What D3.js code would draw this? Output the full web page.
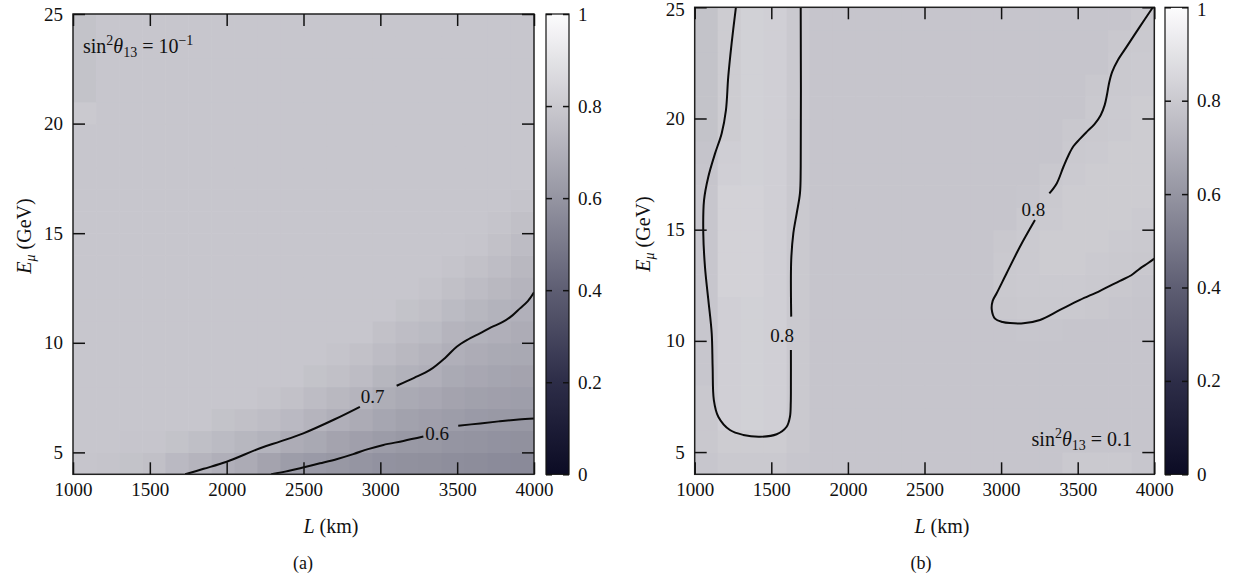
<!DOCTYPE html>
<html>
<head>
<meta charset="utf-8">
<script src="https://cdn.jsdelivr.net/npm/d3@7"></script>
<style>
  body { margin: 0; background: #fff; }
  svg { display: block; }
  text { font-family: "Liberation Serif", "DejaVu Serif", serif; fill: #111; }
</style>
</head>
<body>
<svg id="chart" width="1235" height="579"></svg>
<script>
// Bin edges of the (L, E_mu) grid
const lengthEdges = [1000,1150,1300,1450,1600,1750,1900,2050,2200,2350,2500,2650,2800,2950,3100,3250,3400,3550,3700,3850,4000];
const energyEdges = [4,5,6,7,8,9,10,11,12,13,14,15,16,17,18,19,20,21,22,23,24,25];

const lengthTicks = [1000,1500,2000,2500,3000,3500,4000];
const energyTicks = [5,10,15,20,25];
const colorTicks = [0,0.2,0.4,0.6,0.8,1];

// Panel (a): sin^2(theta13) = 10^-1, rows from E = 4-5 GeV upward
const probA = [
  [.785,.78,.775,.765,.74,.72,.70,.685,.655,.63,.62,.61,.60,.59,.585,.58,.575,.57,.565,.56],
  [.79,.79,.785,.785,.775,.76,.745,.73,.715,.69,.675,.655,.64,.625,.615,.61,.60,.595,.59,.585],
  [.79,.79,.79,.79,.79,.79,.775,.765,.755,.74,.72,.70,.685,.665,.65,.64,.63,.62,.615,.61],
  [.79,.79,.79,.79,.79,.79,.79,.79,.78,.77,.75,.735,.72,.695,.68,.67,.655,.645,.64,.635],
  [.79,.79,.79,.79,.79,.79,.79,.79,.79,.79,.775,.765,.75,.725,.71,.70,.68,.67,.66,.655],
  [.79,.79,.79,.79,.79,.79,.79,.79,.79,.79,.79,.78,.77,.75,.735,.72,.70,.69,.68,.675],
  [.79,.79,.79,.79,.79,.79,.79,.79,.79,.79,.79,.79,.79,.77,.755,.745,.72,.71,.70,.69],
  [.79,.79,.79,.79,.79,.79,.79,.79,.79,.79,.79,.79,.79,.79,.775,.765,.745,.73,.715,.705],
  [.79,.79,.79,.79,.79,.79,.79,.79,.79,.79,.79,.79,.79,.79,.79,.78,.765,.75,.735,.72],
  [.79,.79,.79,.79,.79,.79,.79,.79,.79,.79,.79,.79,.79,.79,.79,.79,.78,.77,.755,.735],
  [.79,.79,.79,.79,.79,.79,.79,.79,.79,.79,.79,.79,.79,.79,.79,.79,.79,.785,.77,.75],
  [.79,.79,.79,.79,.79,.79,.79,.79,.79,.79,.79,.79,.79,.79,.79,.79,.79,.79,.78,.765],
  [.79,.79,.79,.79,.79,.79,.79,.79,.79,.79,.79,.79,.79,.79,.79,.79,.79,.79,.79,.78],
  [.79,.79,.79,.79,.79,.79,.79,.79,.79,.79,.79,.79,.79,.79,.79,.79,.79,.79,.79,.79],
  [.79,.79,.79,.79,.79,.79,.79,.79,.79,.79,.79,.79,.79,.79,.79,.79,.79,.79,.79,.79],
  [.79,.79,.79,.79,.79,.79,.79,.79,.79,.79,.79,.79,.79,.79,.79,.79,.79,.79,.79,.79],
  [.80,.79,.79,.79,.79,.79,.79,.79,.79,.79,.79,.79,.79,.79,.79,.79,.79,.79,.79,.79],
  [.775,.79,.79,.79,.79,.79,.79,.79,.79,.79,.79,.79,.79,.79,.79,.79,.79,.79,.79,.79],
  [.775,.79,.79,.79,.79,.79,.79,.79,.79,.79,.79,.79,.79,.79,.79,.79,.79,.79,.79,.79],
  [.775,.79,.79,.79,.79,.79,.79,.79,.79,.79,.79,.79,.79,.79,.79,.79,.79,.79,.79,.79],
  [.775,.79,.79,.79,.79,.79,.79,.79,.79,.79,.79,.79,.79,.79,.79,.79,.79,.79,.79,.79]
];

// Panel (b): sin^2(theta13) = 0.1
const probB = [
  [.79,.80,.80,.80,.79,.785,.785,.785,.785,.785,.785,.785,.785,.785,.785,.785,.80,.80,.80,.79],
  [.795,.81,.81,.81,.795,.785,.785,.785,.785,.785,.785,.785,.785,.785,.785,.785,.785,.785,.785,.785],
  [.795,.825,.83,.825,.80,.785,.785,.785,.785,.785,.785,.785,.785,.785,.785,.785,.785,.785,.785,.785],
  [.795,.825,.83,.825,.80,.785,.785,.785,.785,.785,.785,.785,.785,.785,.785,.785,.785,.785,.785,.785],
  [.79,.825,.83,.825,.80,.785,.785,.785,.785,.785,.785,.785,.785,.785,.785,.785,.785,.785,.785,.785],
  [.79,.825,.83,.825,.80,.785,.785,.785,.785,.785,.785,.785,.785,.785,.785,.785,.785,.785,.785,.785],
  [.79,.825,.83,.825,.80,.785,.785,.785,.785,.785,.785,.785,.785,.785,.79,.79,.785,.785,.785,.785],
  [.79,.825,.83,.825,.80,.785,.785,.785,.785,.785,.785,.785,.785,.795,.80,.80,.80,.795,.79,.785],
  [.79,.835,.835,.825,.80,.785,.785,.785,.785,.785,.785,.785,.785,.80,.805,.805,.805,.80,.795,.79],
  [.79,.835,.835,.825,.80,.785,.785,.785,.785,.785,.785,.785,.785,.80,.805,.81,.81,.805,.80,.795],
  [.79,.835,.835,.825,.80,.785,.785,.785,.785,.785,.785,.785,.785,.795,.805,.81,.81,.81,.805,.80],
  [.79,.835,.835,.825,.80,.785,.785,.785,.785,.785,.785,.785,.785,.785,.80,.805,.81,.81,.81,.805],
  [.79,.835,.835,.825,.80,.785,.785,.785,.785,.785,.785,.785,.785,.785,.79,.80,.81,.81,.81,.81],
  [.785,.825,.83,.825,.80,.785,.785,.785,.785,.785,.785,.785,.785,.785,.785,.795,.805,.81,.81,.81],
  [.78,.82,.83,.825,.80,.785,.785,.785,.785,.785,.785,.785,.785,.785,.785,.785,.80,.805,.81,.81],
  [.775,.81,.83,.825,.80,.785,.785,.785,.785,.785,.785,.785,.785,.785,.785,.785,.795,.80,.805,.81],
  [.775,.81,.83,.825,.80,.785,.785,.785,.785,.785,.785,.785,.785,.785,.785,.785,.785,.80,.805,.81],
  [.775,.81,.83,.825,.80,.785,.785,.785,.785,.785,.785,.785,.785,.785,.785,.785,.785,.795,.80,.805],
  [.775,.81,.83,.825,.80,.785,.785,.785,.785,.785,.785,.785,.785,.785,.785,.785,.785,.785,.80,.805],
  [.775,.81,.83,.825,.80,.785,.785,.785,.785,.785,.785,.785,.785,.785,.785,.785,.785,.785,.795,.80],
  [.775,.81,.83,.825,.80,.785,.785,.785,.785,.785,.785,.785,.785,.785,.785,.785,.785,.785,.785,.795]
];

// Iso-probability contours as [L (km), E (GeV)] points, split where the level label sits
const contoursA = [
  [[1730,4],[1850,4.25],[2000,4.57],[2217,5.19],[2350,5.5],[2499,5.87],[2700,6.5],[2867,7.08]],
  [[3106,8.04],[3220,8.4],[3323,8.76],[3420,9.3],[3497,9.82],[3570,10.15],[3648,10.43],[3720,10.7],[3800,10.96],[3860,11.25],[3909,11.57],[3960,11.9],[4000,12.3]],
  [[2290,4],[2400,4.15],[2490,4.3],[2607,4.5],[2720,4.7],[2824,4.92],[2920,5.15],[3020,5.34],[3150,5.52],[3280,5.72]],
  [[3507,6.22],[3650,6.32],[3778,6.42],[3900,6.5],[4000,6.55]]
];
const contourLabelsA = [
  {text: "0.7", L: 2950, E: 7.53},
  {text: "0.6", L: 3370, E: 5.88}
];

const contoursB = [
  [[1628,9.59],[1628,8.09],[1627,7.2],[1622,6.6],[1600,6.14],[1535,5.8],[1426,5.69],[1317,5.77],[1230,5.99],[1154,6.59],[1125,7.34],[1117,8.84],[1111,10.34],[1089,11.84],[1067,13.33],[1056,14.84],[1061,16.33],[1089,17.38],[1133,18.43],[1176,19.33],[1204,20.38],[1219,21.88],[1241,23.38],[1269,25]],
  [[1630,11.09],[1630,13.64],[1644,14.84],[1666,15.74],[1687,16.63],[1692,17.83],[1692,25]],
  [[3991,25],[3906,24.13],[3820,23.23],[3760,22.6],[3725,22.1],[3705,21.6],[3692,21.1],[3676,20.6],[3650,20.15],[3610,19.75],[3559,19.4],[3510,19.05],[3472,18.75],[3440,18.35],[3407,17.83],[3363,17.08],[3315,16.63]],
  [[3221,15.43],[3123,14.23],[3036,13.04],[2971,12.14],[2945,11.8],[2939,11.4],[2960,11.0],[3010,10.85],[3058,10.8],[3145,10.79],[3254,10.94],[3384,11.39],[3515,11.84],[3646,12.25],[3776,12.7],[3850,12.95],[3906,13.25],[3960,13.5],[4000,13.7]]
];
const contourLabelsB = [
  {text: "0.8", L: 1570, E: 10.26},
  {text: "0.8", L: 3210, E: 15.92}
];

// Grey-blue palette running from dark navy (0) to white (1)
const palette = d3.scaleLinear()
  .domain([0, 0.2, 0.4, 0.6, 0.8, 1])
  .range(["#0b0b24", "#2d2d48", "#5e5e73", "#9595a2", "#cac9cf", "#fcfcfd"])
  .interpolate(d3.interpolateRgb);

const svg = d3.select("#chart");
const defs = svg.append("defs");

const grad = defs.append("linearGradient")
  .attr("id", "barGradient")
  .attr("x1", 0).attr("y1", 1).attr("x2", 0).attr("y2", 0);
d3.range(0, 1.0001, 0.05).forEach(t => {
  grad.append("stop").attr("offset", t).attr("stop-color", palette(t));
});

function styleAxis(g) {
  g.select(".domain").remove();
  g.selectAll(".tick line").attr("stroke", "#111").attr("stroke-width", 1.5);
  g.selectAll(".tick text").attr("fill", "#111").style("font-size", "19px");
}

function drawPanel(p) {
  const g = svg.append("g");
  const x = d3.scaleLinear()
    .domain([lengthEdges[0], lengthEdges[lengthEdges.length - 1]])
    .range([p.left, p.right]);
  const y = d3.scaleLinear()
    .domain([energyEdges[0], energyEdges[energyEdges.length - 1]])
    .range([p.bottom, p.top]);

  const clipId = "clip-" + p.id;
  defs.append("clipPath").attr("id", clipId)
    .append("rect")
    .attr("x", p.left).attr("y", p.top)
    .attr("width", p.right - p.left).attr("height", p.bottom - p.top);

  // heat-map cells
  const cells = p.grid.flatMap((row, r) => row.map((v, c) => ({r, c, v})));
  g.append("g").attr("clip-path", `url(#${clipId})`)
    .selectAll("rect").data(cells).join("rect")
    .attr("x", d => x(lengthEdges[d.c]))
    .attr("y", d => y(energyEdges[d.r + 1]))
    .attr("width", d => x(lengthEdges[d.c + 1]) - x(lengthEdges[d.c]) + 0.6)
    .attr("height", d => y(energyEdges[d.r]) - y(energyEdges[d.r + 1]) + 0.6)
    .attr("fill", d => palette(d.v));

  // contour lines
  const line = d3.line()
    .x(d => x(d[0])).y(d => y(d[1]))
    .curve(d3.curveCatmullRom.alpha(0.5));
  g.append("g").attr("clip-path", `url(#${clipId})`)
    .selectAll("path").data(p.contours).join("path")
    .attr("d", line)
    .attr("fill", "none")
    .attr("stroke", "#0a0a0a")
    .attr("stroke-width", 2)
    .attr("stroke-linejoin", "round");

  g.selectAll("text.clabel").data(p.labels).join("text")
    .attr("class", "clabel")
    .attr("x", d => x(d.L)).attr("y", d => y(d.E))
    .attr("text-anchor", "middle")
    .attr("dominant-baseline", "central")
    .style("font-size", "19px")
    .text(d => d.text);

  // frame
  g.append("rect")
    .attr("x", p.left).attr("y", p.top)
    .attr("width", p.right - p.left).attr("height", p.bottom - p.top)
    .attr("fill", "none").attr("stroke", "#222").attr("stroke-width", 1.5);

  // axes (ticks point inward, mirrored on top and right)
  g.append("g").attr("transform", `translate(0,${p.bottom})`)
    .call(d3.axisBottom(x).tickValues(lengthTicks).tickSize(-12).tickPadding(8).tickFormat(d3.format("d")))
    .call(styleAxis);
  g.append("g").attr("transform", `translate(0,${p.top})`)
    .call(d3.axisTop(x).tickValues(lengthTicks).tickSize(-12).tickFormat(""))
    .call(styleAxis);
  const yAxis = g.append("g").attr("transform", `translate(${p.left},0)`)
    .call(d3.axisLeft(y).tickValues(energyTicks).tickSize(-12).tickPadding(10))
    .call(styleAxis);
  g.append("g").attr("transform", `translate(${p.right},0)`)
    .call(d3.axisRight(y).tickValues(energyTicks).tickSize(-12).tickFormat(""))
    .call(styleAxis);

  // colour bar
  const cb = d3.scaleLinear().domain([0, 1]).range([p.bottom, p.top]);
  g.append("rect")
    .attr("x", p.barX).attr("y", p.top)
    .attr("width", p.barW).attr("height", p.bottom - p.top)
    .attr("fill", "url(#barGradient)")
    .attr("stroke", "#111").attr("stroke-width", 1.2);
  const cbAxis = g.append("g").attr("transform", `translate(${p.barX + p.barW},0)`)
    .call(d3.axisRight(cb).tickValues(colorTicks).tickSize(-6).tickPadding(9).tickFormat(d => String(d)))
    .call(styleAxis);
  g.append("g").attr("transform", `translate(${p.barX},0)`)
    .call(d3.axisLeft(cb).tickValues(colorTicks).tickSize(-6).tickFormat(""))
    .call(styleAxis);

  // keep the topmost labels inside the page
  if (p.top < 10) {
    yAxis.selectAll(".tick text").filter(d => d === 25).attr("dy", "0.45em");
    cbAxis.selectAll(".tick text").filter(d => d === 1).attr("dy", "0.45em");
  }

  // mixing-angle annotation
  const ann = g.append("text")
    .attr("x", p.annX).attr("y", p.annY)
    .attr("text-anchor", p.annAnchor)
    .style("font-size", "20px");
  ann.append("tspan").text("sin");
  ann.append("tspan").attr("dy", -8).style("font-size", "14px").text("2");
  ann.append("tspan").attr("dy", 8).style("font-style", "italic").text("θ");
  ann.append("tspan").attr("dy", 4).style("font-size", "14px").text("13");
  ann.append("tspan").attr("dy", -4).text(" = " + p.annValue);
  if (p.annExp) {
    ann.append("tspan").attr("dy", -8).style("font-size", "14px").text(p.annExp);
  }

  // axis titles
  const xt = g.append("text")
    .attr("x", p.xTitleX).attr("y", 533)
    .attr("text-anchor", "middle")
    .style("font-size", "20px");
  xt.append("tspan").style("font-style", "italic").text("L");
  xt.append("tspan").text(" (km)");

  const yt = g.append("text")
    .attr("transform", `translate(${p.yTitleX},${p.yTitleY}) rotate(-90)`)
    .attr("text-anchor", "middle")
    .style("font-size", "20px");
  yt.append("tspan").style("font-style", "italic").text("E");
  yt.append("tspan").attr("dy", 4).style("font-size", "14px").style("font-style", "italic").text("μ");
  yt.append("tspan").attr("dy", -4).text(" (GeV)");

  // panel caption
  g.append("text")
    .attr("x", p.capX).attr("y", 569)
    .attr("text-anchor", "middle")
    .style("font-size", "18px")
    .text(p.caption);
}

drawPanel({
  id: "a", grid: probA, contours: contoursA, labels: contourLabelsA,
  left: 73, right: 534, top: 14, bottom: 474.3,
  barX: 546, barW: 23,
  annX: 83, annY: 53, annAnchor: "start", annValue: "10", annExp: "−1",
  xTitleX: 331, yTitleX: 31, yTitleY: 236, capX: 303, caption: "(a)"
});

drawPanel({
  id: "b", grid: probB, contours: contoursB, labels: contourLabelsB,
  left: 694.7, right: 1154.3, top: 7.3, bottom: 474.3,
  barX: 1165, barW: 23,
  annX: 1132, annY: 446, annAnchor: "end", annValue: "0.1", annExp: null,
  xTitleX: 942, yTitleX: 650, yTitleY: 234, capX: 921, caption: "(b)"
});
</script>
</body>
</html>
